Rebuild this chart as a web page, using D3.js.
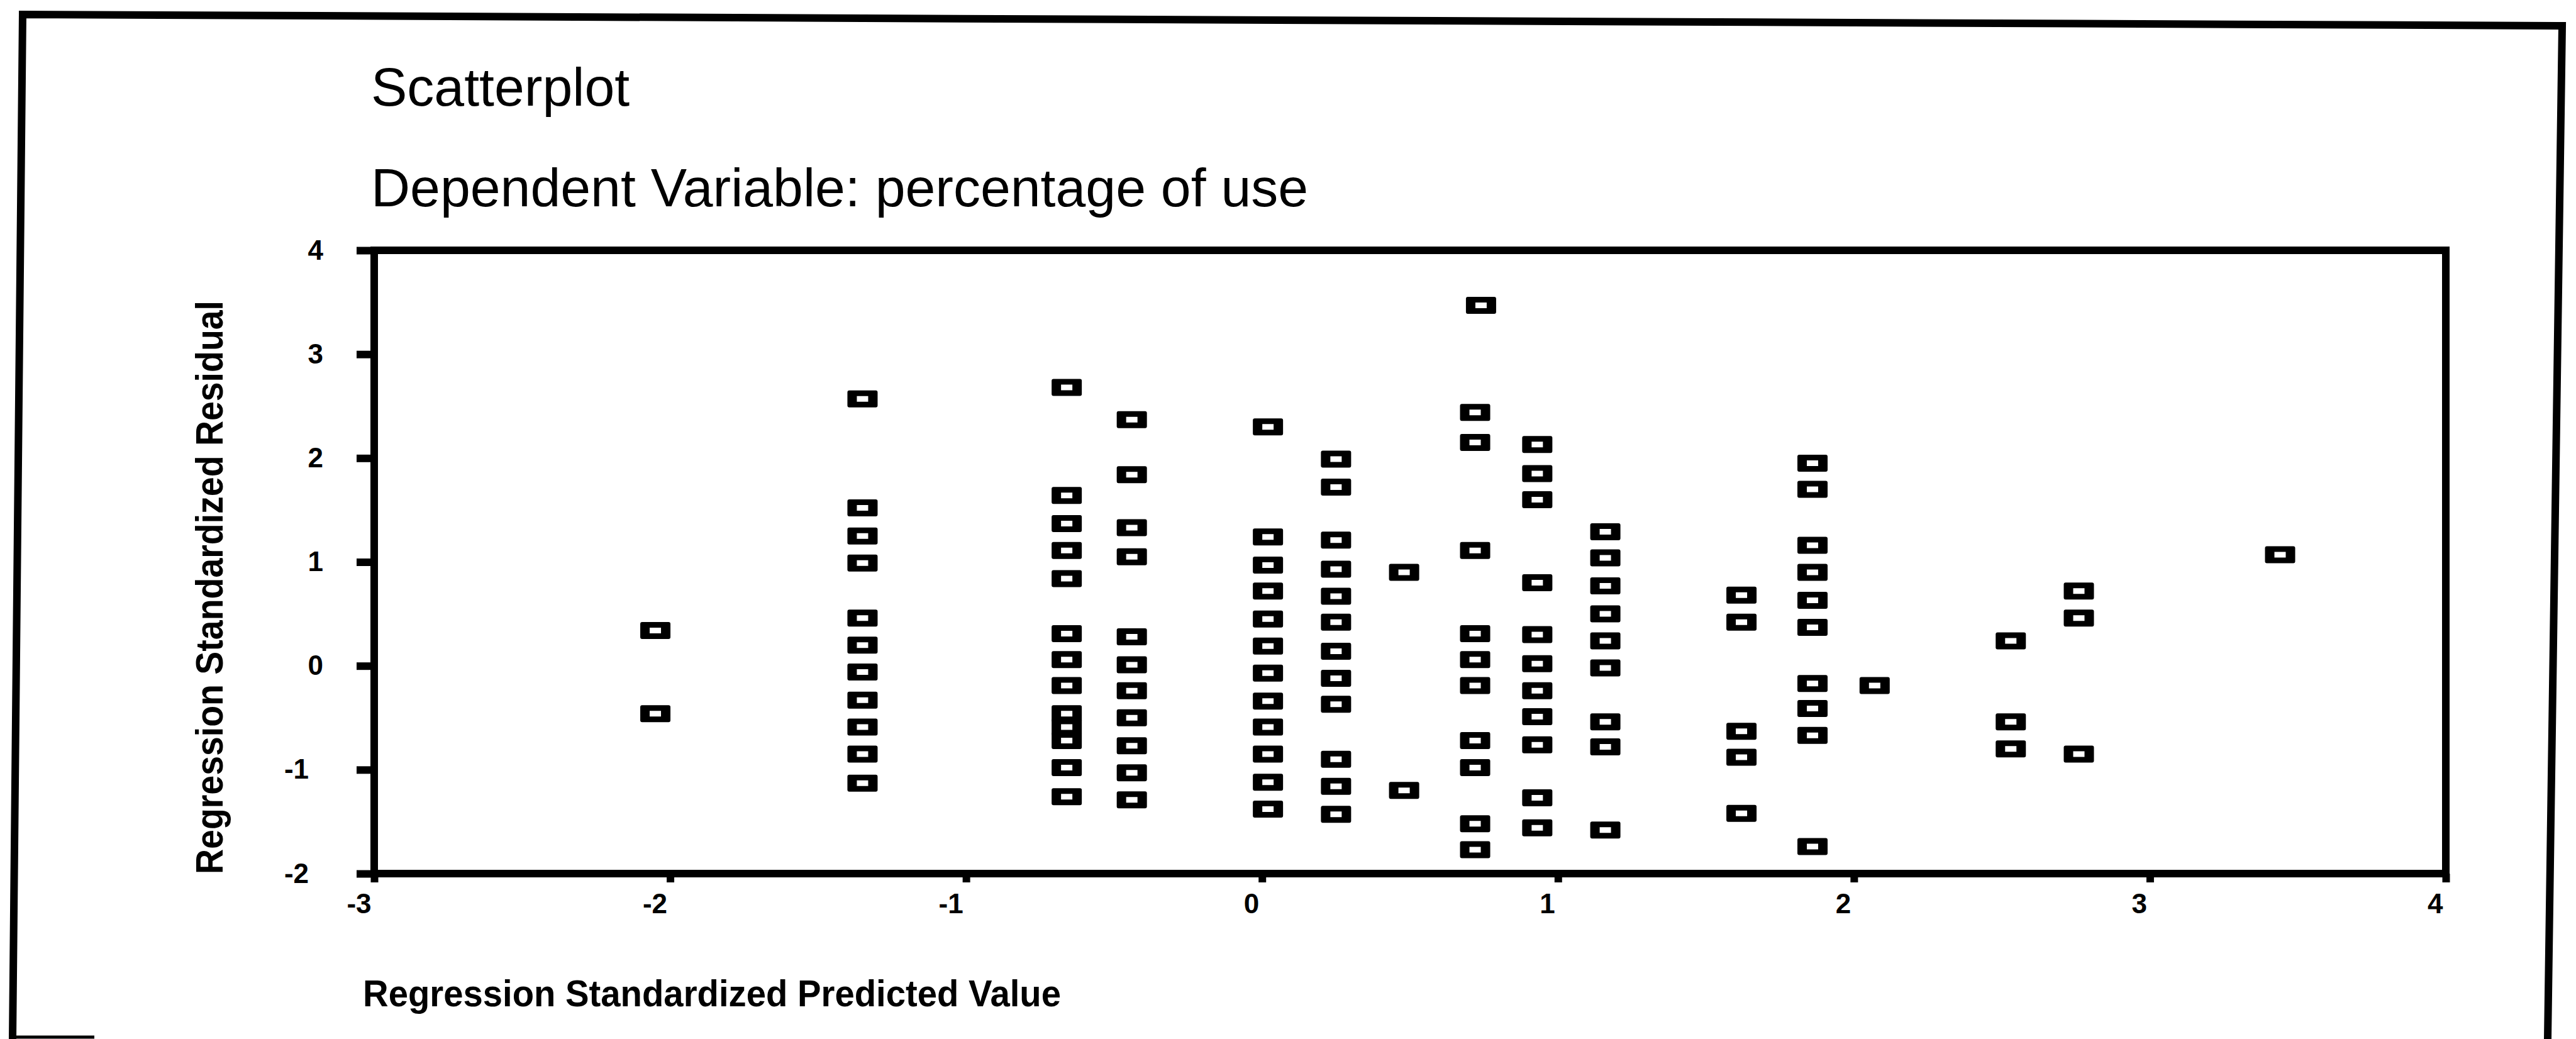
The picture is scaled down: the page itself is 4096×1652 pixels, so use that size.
<!DOCTYPE html>
<html>
<head>
<meta charset="utf-8">
<script src="https://cdn.jsdelivr.net/npm/d3@7"></script>
<style>
  html, body { margin: 0; padding: 0; background: #fff; }
  svg { display: block; }
  text { font-family: "Liberation Sans", Arial, Helvetica, sans-serif; fill: #000; }
</style>
</head>
<body>
<svg id="chart" width="4096" height="1652"></svg>
<script>
// Regression residual plot: standardized predicted value vs standardized residual
const chartTitle = "Scatterplot";
const chartSubtitle = "Dependent Variable: percentage of use";
const xTitle = "Regression Standardized Predicted Value";
const yTitle = "Regression Standardized Residual";

const xTicks = [-3, -2, -1, 0, 1, 2, 3, 4];
const yTicks = [-2, -1, 0, 1, 2, 3, 4];

// Observations come in vertical stacks sharing a predicted value
const predictedColumns = [-2.05, -1.35, -0.66, -0.44, 0.02, 0.25, 0.48, 0.72, 0.74, 0.93, 1.16, 1.62, 1.86, 2.07, 2.53, 2.76, 3.44];
const residualColumns = [
  [0.34, -0.46],
  [2.57, 1.52, 1.25, 0.99, 0.46, 0.20, -0.06, -0.33, -0.59, -0.85, -1.13],
  [2.68, 1.64, 1.37, 1.11, 0.84, 0.31, 0.06, -0.19, -0.46, -0.59, -0.72, -0.98, -1.26],
  [2.37, 1.84, 1.33, 1.05, 0.28, 0.01, -0.24, -0.50, -0.77, -1.03, -1.29],
  [2.30, 1.24, 0.97, 0.72, 0.45, 0.19, -0.07, -0.34, -0.59, -0.85, -1.12, -1.38],
  [1.99, 1.72, 1.21, 0.93, 0.67, 0.42, 0.14, -0.12, -0.37, -0.90, -1.16, -1.43],
  [0.90, -1.20],
  [2.44, 2.15, 1.11, 0.31, 0.06, -0.19, -0.72, -0.98, -1.52, -1.77],
  [3.47],
  [2.13, 1.85, 1.60, 0.80, 0.30, 0.02, -0.24, -0.49, -0.76, -1.27, -1.56],
  [1.29, 1.04, 0.77, 0.50, 0.24, -0.02, -0.54, -0.78, -1.58],
  [0.68, 0.42, -0.63, -0.88, -1.42],
  [1.95, 1.70, 1.16, 0.90, 0.63, 0.37, -0.17, -0.41, -0.67, -1.74],
  [-0.19],
  [0.24, -0.54, -0.80],
  [0.72, 0.46, -0.85],
  [1.07]
];

const points = predictedColumns.flatMap((px, i) =>
  residualColumns[i].map(r => ({ x: px, y: r }))
);

const svg = d3.select("#chart");

// page border
svg.append("path")
  .attr("d", "M20,1652 L36,23 L4074,41 L4051,1652")
  .attr("fill", "none").attr("stroke", "#000").attr("stroke-width", 12)
  .attr("stroke-linejoin", "miter");
svg.append("line")
  .attr("x1", 18).attr("x2", 150).attr("y1", 1649).attr("y2", 1649)
  .attr("stroke", "#000").attr("stroke-width", 5);

// titles
svg.append("text").attr("x", 590).attr("y", 168)
  .attr("font-size", 86).text(chartTitle);
svg.append("text").attr("x", 590).attr("y", 328)
  .attr("font-size", 86).text(chartSubtitle);

// scales
const x = d3.scaleLinear().domain([-3, 4]).range([595, 3889]);
const y = d3.scaleLinear().domain([-2, 4]).range([1389, 398]);

// plot frame
svg.append("rect")
  .attr("x", x(-3)).attr("y", y(4))
  .attr("width", x(4) - x(-3)).attr("height", y(-2) - y(4))
  .attr("fill", "none").attr("stroke", "#000").attr("stroke-width", 12);

// y axis
const yAxis = svg.append("g")
  .attr("transform", `translate(${x(-3)},0)`)
  .call(d3.axisLeft(y).tickValues(yTicks).tickSize(28).tickPadding(53)
    .tickFormat(d => String(d)));
yAxis.select(".domain").remove();
yAxis.selectAll(".tick line").attr("stroke", "#000").attr("stroke-width", 12);
yAxis.selectAll(".tick text")
  .attr("font-family", "Liberation Sans, Arial, sans-serif")
  .attr("font-size", 44).attr("font-weight", "bold").attr("fill", "#000")
  .attr("dx", d => d < 0 ? -23 : 0);

// x axis
const xAxis = svg.append("g")
  .attr("transform", `translate(0,${y(-2)})`)
  .call(d3.axisBottom(x).tickValues(xTicks).tickSize(14).tickPadding(18)
    .tickFormat(d => String(d)));
xAxis.select(".domain").remove();
xAxis.selectAll(".tick line").attr("stroke", "#000").attr("stroke-width", 12);
xAxis.selectAll(".tick text")
  .attr("font-family", "Liberation Sans, Arial, sans-serif")
  .attr("font-size", 44).attr("font-weight", "bold").attr("fill", "#000")
  .attr("text-anchor", "end").attr("dx", -5);

// axis titles
svg.append("text")
  .attr("transform", "translate(354,934) rotate(-90)")
  .attr("text-anchor", "middle")
  .attr("font-size", 62).attr("font-weight", "bold")
  .attr("textLength", 912).attr("lengthAdjust", "spacingAndGlyphs")
  .text(yTitle);
svg.append("text")
  .attr("x", 577).attr("y", 1600)
  .attr("font-size", 60).attr("font-weight", "bold")
  .attr("textLength", 1110).attr("lengthAdjust", "spacingAndGlyphs")
  .text(xTitle);

// hollow box marker: rounded outer outline with a small rectangular hole
const boxMarker = {
  draw(ctx) {
    const ow = 24, oh = 13.5, r = 3, iw = 9, ih = 4.5;
    ctx.moveTo(-ow + r, -oh);
    ctx.lineTo(ow - r, -oh);
    ctx.arcTo(ow, -oh, ow, -oh + r, r);
    ctx.lineTo(ow, oh - r);
    ctx.arcTo(ow, oh, ow - r, oh, r);
    ctx.lineTo(-ow + r, oh);
    ctx.arcTo(-ow, oh, -ow, oh - r, r);
    ctx.lineTo(-ow, -oh + r);
    ctx.arcTo(-ow, -oh, -ow + r, -oh, r);
    ctx.closePath();
    ctx.moveTo(-iw, -ih);
    ctx.lineTo(iw, -ih);
    ctx.lineTo(iw, ih);
    ctx.lineTo(-iw, ih);
    ctx.closePath();
  }
};
const markerPath = d3.symbol().type(boxMarker)();

svg.append("g").attr("class", "points")
  .selectAll("path")
  .data(points)
  .join("path")
  .attr("d", markerPath)
  .attr("fill", "#000")
  .attr("fill-rule", "evenodd")
  .attr("transform", d => `translate(${x(d.x)},${y(d.y)})`);
</script>
</body>
</html>
